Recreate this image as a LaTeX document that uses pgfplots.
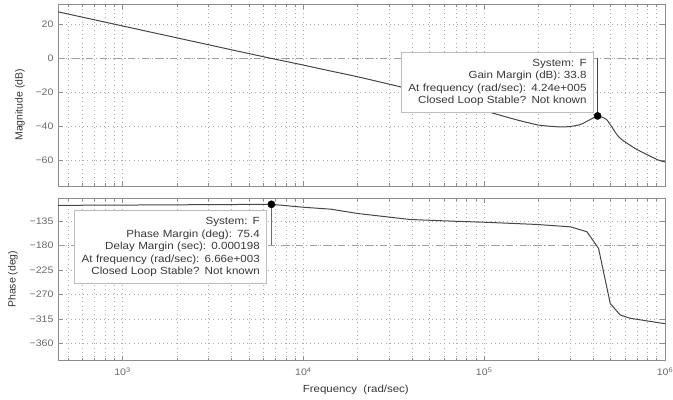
\documentclass[border=0pt]{standalone}
\usepackage{fontspec}
\setmainfont{Liberation Sans}[FakeStretch=1.12]
\newfontfamily\ylabfont{Liberation Sans}
\usepackage{pgfplots}
\pgfplotsset{compat=1.18}
\definecolor{curvecol}{RGB}{70,70,70}
\definecolor{axgray}{RGB}{140,140,140}
\definecolor{gridgray}{RGB}{170,170,170}
\definecolor{dashgray}{RGB}{160,160,160}
\definecolor{tickgray}{RGB}{105,105,105}
\definecolor{labgray}{RGB}{55,55,55}
\definecolor{boxborder}{RGB}{190,190,190}
\pgfplotsset{
  myBode/.style={
    scale only axis,
    width=607bp,
    xmin=440, xmax=1000000,
    axis line style={axgray, line width=0.8bp},
    every tick/.style={axgray, line width=0.6bp},
    major tick length=5bp,
    minor tick length=3bp,
    tick align=inside,
    xtick={1000,10000,100000,1000000},
    minor xtick={500,600,700,800,900,2000,3000,4000,5000,6000,7000,8000,9000,20000,30000,40000,50000,60000,70000,80000,90000,200000,300000,400000,500000,600000,700000,800000,900000},
    xmajorgrids, xminorgrids, ymajorgrids,
    major grid style={gridgray, line width=0.6bp, dash pattern=on 0.6bp off 3.6bp},
    minor grid style={gridgray, line width=0.6bp, dash pattern=on 0.6bp off 3.6bp},
    tick label style={font=\fontsize{9.5}{11}\selectfont, text=tickgray},
    yticklabel style={xshift=-1bp},
    xlabel style={font=\fontsize{10.3}{12}\selectfont, text=labgray},
    ylabel style={font=\ylabfont\fontsize{10.5}{12}\selectfont, text=labgray},
  },
}
\tikzset{
  mgbox/.style={draw=boxborder, line width=0.7bp, fill=white, align=right,
    font=\fontsize{10.4}{12.5}\selectfont, text=labgray, inner xsep=6.5bp, inner ysep=0bp},
}
\begin{document}
\begin{tikzpicture}
\path[use as bounding box] (0,0) rectangle (673bp,-400bp);
% Magnitude
\begin{semilogxaxis}[myBode,
  at={(58bp,-4bp)}, anchor=north west,
  height=182bp,
  ymin=-75, ymax=32,
  ytick={-60,-40,-20,0,20},
  yticklabels={−60,−40,−20,0,20},
  xticklabels={},
  ylabel={Magnitude (dB)},
  ylabel style={at={(axis description cs:-0.0626,0.446)}, anchor=center},
]
\addplot[dashgray, line width=1.1bp, dash pattern=on 7bp off 3bp on 1bp off 3bp] coordinates {(440,0) (1000000,0)};
\addplot[curvecol, line width=1bp, smooth, tension=0.3] coordinates {
(440,27.4) (1000,19.1) (2000,12.1) (4000,5.1) (6660,0) (10000,-3.9) (14160,-7.4)
(20000,-10.8) (34700,-16.8) (60000,-23.5) (104700,-31.3) (150000,-36) (200000,-39.2)
(263000,-40.3) (300000,-40) (340000,-38.9) (385000,-36) (424000,-33.8) (476000,-36)
(542000,-44.8) (578000,-47.8) (700000,-53.6) (920000,-59.8) (1000000,-60.8)};
\addplot[curvecol, line width=0.9bp] coordinates {(424000,0) (424000,-33.8)};
\node[mgbox, text width=179bp, minimum height=60.6bp, anchor=north east] at (axis cs:402000,4.0)
  {System: F\\Gain Margin (dB): 33.8\\At frequency (rad/sec): 4.24e+005\\Closed Loop Stable? Not known};
\addplot[only marks, mark=*, mark size=3.6bp, black] coordinates {(424000,-33.8)};
\end{semilogxaxis}
% Phase
\begin{semilogxaxis}[myBode,
  at={(58bp,-198bp)}, anchor=north west,
  height=162.7bp,
  ymin=-392, ymax=-93,
  ytick={-360,-315,-270,-225,-180,-135},
  yticklabels={−360,−315,−270,−225,−180,−135},
  xticklabels={10\textsuperscript{3},10\textsuperscript{4},10\textsuperscript{5},10\textsuperscript{6}},
  xticklabel style={anchor=center, yshift=-11bp},
  ylabel={Phase (deg)},
  ylabel style={at={(axis description cs:-0.0741,0.501)}, anchor=center},
  xlabel={Frequency\ \ (rad/sec)},
  xlabel style={at={(axis description cs:0.4906,0)}, anchor=center, yshift=-29.3bp},
]
\addplot[dashgray, line width=1.1bp, dash pattern=on 7bp off 3bp on 1bp off 3bp] coordinates {(440,-180) (1000000,-180)};
\addplot[curvecol, line width=1bp] coordinates {
(440,-106.5) (1000,-106) (2000,-105.5) (4000,-105) (6660,-104.6) (10000,-110) (14160,-113.5)
(20000,-121.5) (39000,-132.5) (66000,-135.5) (100000,-137.5) (195000,-141.6) (300000,-146)
(370000,-155) (429000,-185.5) (498000,-287) (565000,-308) (642000,-314) (1000000,-324)};
\addplot[curvecol!80, line width=0.9bp] coordinates {(6660,-104.6) (6660,-180)};
\node[mgbox, text width=178.7bp, minimum height=73.3bp, anchor=north east] at (axis cs:6270,-115.3)
  {System: F\\Phase Margin (deg): 75.4\\Delay Margin (sec): 0.000198\\At frequency (rad/sec): 6.66e+003\\Closed Loop Stable? Not known};
\addplot[only marks, mark=*, mark size=3.6bp, black] coordinates {(6660,-104.6)};
\end{semilogxaxis}
\end{tikzpicture}
\end{document}
